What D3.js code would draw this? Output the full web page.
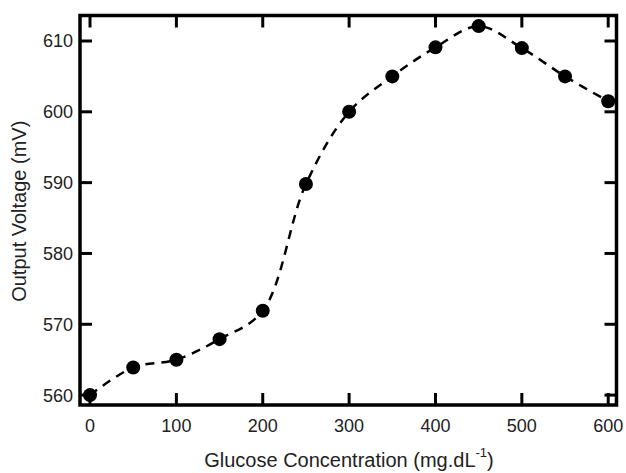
<!DOCTYPE html>
<html>
<head>
<meta charset="utf-8">
<script src="https://cdn.jsdelivr.net/npm/d3@7"></script>
<style>
  body { margin: 0; background: #fff; }
  text { font-family: "Liberation Sans", Arial, sans-serif; fill: #222; }
</style>
</head>
<body>
<div id="chart"></div>
<script>
var width = 626,
    height = 473;

// data
var glucose = [0, 50, 100, 150, 200, 250, 300, 350, 400, 450, 500, 550, 600];
var voltage = [560, 563.9, 565, 567.9, 571.9, 589.8, 600, 605, 609.1, 612.1, 609, 605, 601.5];
var xTicks = [0, 100, 200, 300, 400, 500, 600];
var yTicks = [560, 570, 580, 590, 600, 610];

var margin = { left: 80, top: 15.5, right: 9.5, bottom: 68 };

var svg = d3.select('#chart').append('svg')
    .attr('width', width)
    .attr('height', height);

var xScale = d3.scaleLinear().domain([-11.6, 609.6]).range([margin.left, width - margin.right]);
var yScale = d3.scaleLinear().domain([558.6, 613.6]).range([height - margin.bottom, margin.top]);

var x0 = xScale.range()[0], x1 = xScale.range()[1],
    y0 = yScale.range()[0], y1 = yScale.range()[1];

var tickLen = 12;

// inward ticks on all four sides
var g = svg.append('g').attr('stroke', '#000').attr('stroke-width', 3);
xTicks.forEach(function(t) {
    g.append('line').attr('x1', xScale(t)).attr('x2', xScale(t)).attr('y1', y0).attr('y2', y0 - tickLen);
    g.append('line').attr('x1', xScale(t)).attr('x2', xScale(t)).attr('y1', y1).attr('y2', y1 + tickLen);
});
yTicks.forEach(function(t) {
    g.append('line').attr('y1', yScale(t)).attr('y2', yScale(t)).attr('x1', x0).attr('x2', x0 + tickLen);
    g.append('line').attr('y1', yScale(t)).attr('y2', yScale(t)).attr('x1', x1).attr('x2', x1 - tickLen);
});

// frame
svg.append('rect')
    .attr('x', x0).attr('y', y1)
    .attr('width', x1 - x0).attr('height', y0 - y1)
    .attr('fill', 'none').attr('stroke', '#000').attr('stroke-width', 3.5);

// tick labels
svg.selectAll('.xlab').data(xTicks).enter().append('text')
    .attr('class', 'xlab')
    .attr('x', function(d) { return xScale(d); })
    .attr('y', 432)
    .attr('text-anchor', 'middle')
    .style('font-size', '18px')
    .text(function(d) { return d; });

svg.selectAll('.ylab').data(yTicks).enter().append('text')
    .attr('class', 'ylab')
    .attr('x', 73)
    .attr('y', function(d) { return yScale(d) + 6.5; })
    .attr('text-anchor', 'end')
    .style('font-size', '18px')
    .text(function(d) { return d; });

// axis titles
var xt = svg.append('text')
    .attr('x', 349).attr('y', 467)
    .attr('text-anchor', 'middle')
    .style('font-size', '20px');
xt.append('tspan').text('Glucose Concentration (mg.dL');
xt.append('tspan').attr('dy', -10).style('font-size', '13px').text('-1');
xt.append('tspan').attr('dy', 10).text(')');

svg.append('text')
    .attr('transform', 'translate(26,' + ((y0 + y1) / 2 + 1) + ') rotate(-90)')
    .attr('text-anchor', 'middle')
    .style('font-size', '20px')
    .text('Output Voltage (mV)');

// dashed line + markers
var pts = glucose.map(function(d, i) { return [d, voltage[i]]; });

var path = d3.line()
    .x(function(d) { return xScale(d[0]); })
    .y(function(d) { return yScale(d[1]); })
    .curve(d3.curveCatmullRom.alpha(0.5));

svg.append('path')
    .datum(pts)
    .attr('d', path)
    .attr('fill', 'none')
    .attr('stroke', '#000')
    .attr('stroke-width', 2.5)
    .attr('stroke-dasharray', '9,7');

svg.selectAll('.pt').data(pts).enter().append('circle')
    .attr('class', 'pt')
    .attr('cx', function(d) { return xScale(d[0]); })
    .attr('cy', function(d) { return yScale(d[1]); })
    .attr('r', 7)
    .attr('fill', '#000');
</script>
</body>
</html>
